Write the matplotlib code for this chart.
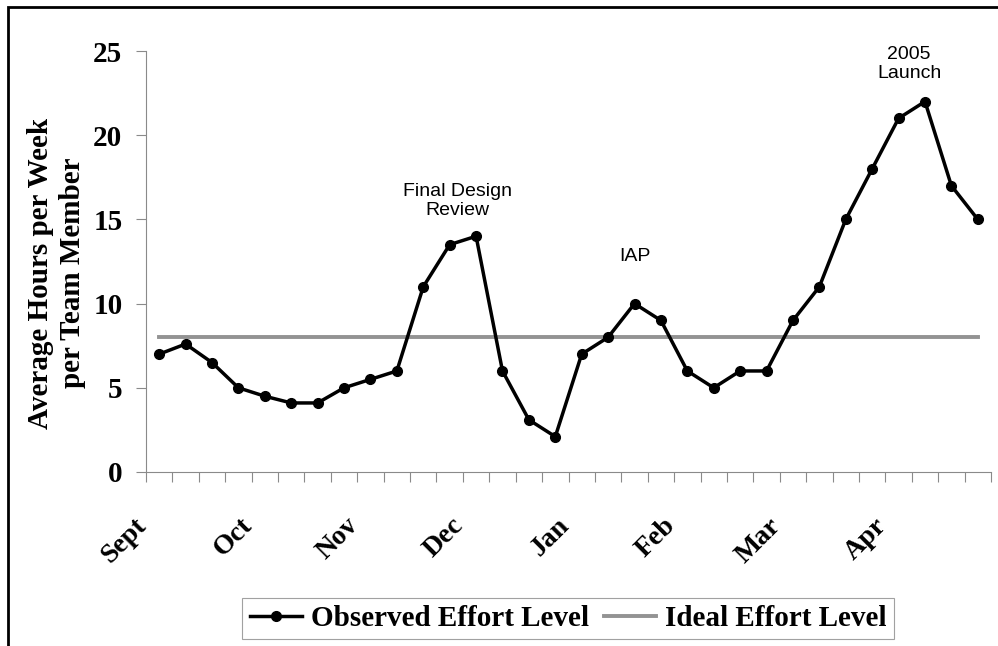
import matplotlib.pyplot as plt
import matplotlib.transforms as mtransforms
from matplotlib.patches import Rectangle

# weekly observations, Sept -> Apr
hours = [7, 7.6, 6.5, 5, 4.5, 4.1, 4.1, 5, 5.5, 6, 11, 13.5, 14, 6, 3.1, 2.1,
         7, 8, 10, 9, 6, 5, 6, 6, 9, 11, 15, 18, 21, 22, 17, 15]
ideal = 8
months = ["Sept", "Oct", "Nov", "Dec", "Jan", "Feb", "Mar", "Apr"]
month_week = [0, 4, 8, 12, 16, 20, 24, 28]
notes = [("Final Design\nReview", 11.3, 16.1),
         ("IAP", 18.0, 12.8),
         ("2005\nLaunch", 28.4, 24.2)]

SERIF = "Liberation Serif"
SANS = "Liberation Sans"

fig = plt.figure(figsize=(9.98, 6.46), dpi=100)
W, H = 998, 646
ax = fig.add_axes([146 / W, 1 - 472 / H, 845 / W, 421 / H])
ax.patch.set_alpha(0)

weeks = list(range(len(hours)))
ax.plot(weeks, hours, color="black", lw=2.5, marker="o", ms=7,
        label="Observed Effort Level", zorder=3)
ax.plot([weeks[0], weeks[-1]], [ideal, ideal], color="#939393", lw=2.8,
        label="Ideal Effort Level", zorder=2)

ax.set_xlim(-0.5, len(hours) - 0.5)
ax.set_ylim(0, 25)

for side in ("top", "right"):
    ax.spines[side].set_visible(False)
for side in ("left", "bottom"):
    ax.spines[side].set_color("#8a8a8a")
    ax.spines[side].set_linewidth(0.8)

ax.set_yticks(range(0, 26, 5))
ax.set_yticklabels([str(v) for v in range(0, 26, 5)], fontfamily=SERIF,
                   fontweight="bold", fontsize=21)
ax.tick_params(axis="y", direction="out", length=7, width=0.8, color="#8a8a8a", pad=10)

ax.set_xticks([w - 0.5 for w in weeks] + [weeks[-1] + 0.5])
ax.set_xticklabels([])
ax.tick_params(axis="x", direction="out", length=7, width=0.8, color="#8a8a8a")

# month labels, rotated like the original
base = mtransforms.blended_transform_factory(ax.transData, ax.transAxes)
shift = mtransforms.ScaledTranslation(-16 / 100, -50 / 100, fig.dpi_scale_trans)
for w, m in zip(month_week, months):
    ax.text(w, 0, m, transform=base + shift, rotation=45, rotation_mode="anchor",
            ha="right", va="center", fontfamily=SERIF, fontweight="bold", fontsize=20)

for txt, x, y in notes:
    ax.text(x, y, txt, ha="center", va="center", fontfamily=SANS, fontsize=14,
            linespacing=1.15)

fig.text(56.5 / W, 1 - 273 / H, "Average Hours per Week\nper Team Member",
         rotation=90, ha="center", va="center", fontfamily=SERIF,
         fontweight="bold", fontsize=21, linespacing=1.2)

leg = fig.legend(loc="center", bbox_to_anchor=(568 / W, 1 - 618.5 / H), ncol=2,
                 prop={"family": SERIF, "weight": "bold", "size": 21},
                 frameon=True, fancybox=False, handlelength=1.8, handletextpad=0.3,
                 columnspacing=0.5, borderpad=0.25, borderaxespad=0)
leg.get_frame().set_edgecolor("#8a8a8a")
leg.get_frame().set_linewidth(0.8)

# outer chart border, cut off at right and bottom in the original
fig.add_artist(Rectangle((8 / W, -0.1), 1.2, 1 - 7 / H + 0.1,
                         transform=fig.transFigure, fill=False, lw=2, ec="black"))

fig.savefig("out.png", dpi=100)
